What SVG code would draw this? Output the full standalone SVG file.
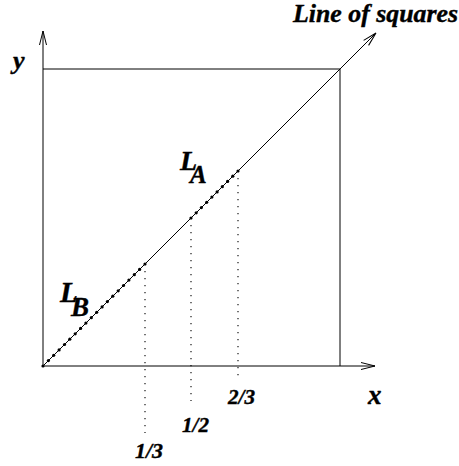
<svg xmlns="http://www.w3.org/2000/svg" width="459" height="466" viewBox="0 0 459 466">
<style>
.ln{stroke:#000;stroke-width:1;fill:none}
.dot{stroke:#000;stroke-width:1.1;stroke-dasharray:1.2 5.8;fill:none}
.t{font-family:"Liberation Serif","Times New Roman",serif;font-style:italic;font-weight:bold;fill:#000;stroke:#000;stroke-width:0.4}
.pt{fill:#000}
</style>
<defs>
<marker id="arr" markerUnits="userSpaceOnUse" markerWidth="20" markerHeight="12" viewBox="-16 -6 18 12" refX="0" refY="0" orient="auto">
<path d="M-14,-3.5 L0,0 L-14,3.5" stroke="#000" stroke-width="1" fill="none"/>
</marker>
</defs>
<rect width="459" height="466" fill="#fff"/>
<g id="connectors">
<line class="ln" x1="43" y1="366" x2="43" y2="31" marker-end="url(#arr)"/>
<line class="ln" x1="43" y1="366" x2="375" y2="366" marker-end="url(#arr)"/>
<line class="ln" x1="43" y1="69" x2="340" y2="69"/>
<line class="ln" x1="340" y1="69" x2="340" y2="366"/>
<line class="ln" x1="43" y1="366" x2="376" y2="33" marker-end="url(#arr)"/>
<line class="dot" x1="145" y1="264" x2="145" y2="433"/>
<line class="dot" x1="191" y1="218" x2="191" y2="401"/>
<line class="dot" x1="238" y1="171" x2="238" y2="376"/>
</g>
<g id="LB-points">
<circle class="pt" cx="43" cy="366" r="1.6"/>
<circle class="pt" cx="48.4" cy="360.6" r="1.6"/>
<circle class="pt" cx="53.7" cy="355.3" r="1.6"/>
<circle class="pt" cx="59.1" cy="349.9" r="1.6"/>
<circle class="pt" cx="64.5" cy="344.5" r="1.6"/>
<circle class="pt" cx="69.8" cy="339.2" r="1.6"/>
<circle class="pt" cx="75.2" cy="333.8" r="1.6"/>
<circle class="pt" cx="80.6" cy="328.4" r="1.6"/>
<circle class="pt" cx="85.9" cy="323.1" r="1.6"/>
<circle class="pt" cx="91.3" cy="317.7" r="1.6"/>
<circle class="pt" cx="96.7" cy="312.3" r="1.6"/>
<circle class="pt" cx="102.1" cy="306.9" r="1.6"/>
<circle class="pt" cx="107.4" cy="301.6" r="1.6"/>
<circle class="pt" cx="112.8" cy="296.2" r="1.6"/>
<circle class="pt" cx="118.2" cy="290.8" r="1.6"/>
<circle class="pt" cx="123.5" cy="285.5" r="1.6"/>
<circle class="pt" cx="128.9" cy="280.1" r="1.6"/>
<circle class="pt" cx="134.3" cy="274.7" r="1.6"/>
<circle class="pt" cx="139.6" cy="269.4" r="1.6"/>
<circle class="pt" cx="145" cy="264" r="1.6"/>
</g>
<g id="LA-points">
<circle class="pt" cx="191" cy="218" r="1.6"/>
<circle class="pt" cx="196.2" cy="212.8" r="1.6"/>
<circle class="pt" cx="201.4" cy="207.6" r="1.6"/>
<circle class="pt" cx="206.7" cy="202.3" r="1.6"/>
<circle class="pt" cx="211.9" cy="197.1" r="1.6"/>
<circle class="pt" cx="217.1" cy="191.9" r="1.6"/>
<circle class="pt" cx="222.3" cy="186.7" r="1.6"/>
<circle class="pt" cx="227.6" cy="181.4" r="1.6"/>
<circle class="pt" cx="232.8" cy="176.2" r="1.6"/>
<circle class="pt" cx="238" cy="171" r="1.6"/>
</g>
<g id="labels">
<text class="t" x="293" y="22" font-size="25" textLength="165" lengthAdjust="spacingAndGlyphs">Line of squares</text>
<text class="t" x="13" y="69" font-size="26">y</text>
<text class="t" x="368" y="404" font-size="27">x</text>
<text class="t" x="135" y="458" font-size="21" textLength="28" lengthAdjust="spacingAndGlyphs">1/3</text>
<text class="t" x="182" y="432" font-size="21" textLength="27" lengthAdjust="spacingAndGlyphs">1/2</text>
<text class="t" x="228" y="404" font-size="21" textLength="27" lengthAdjust="spacingAndGlyphs">2/3</text>
<text id="LA" class="t" x="180" y="170" font-size="28">L<tspan x="190" y="183" font-size="25">A</tspan></text>
<text id="LB" class="t" x="60" y="302" font-size="29">L<tspan x="71" y="316" font-size="27">B</tspan></text>
</g>
</svg>
